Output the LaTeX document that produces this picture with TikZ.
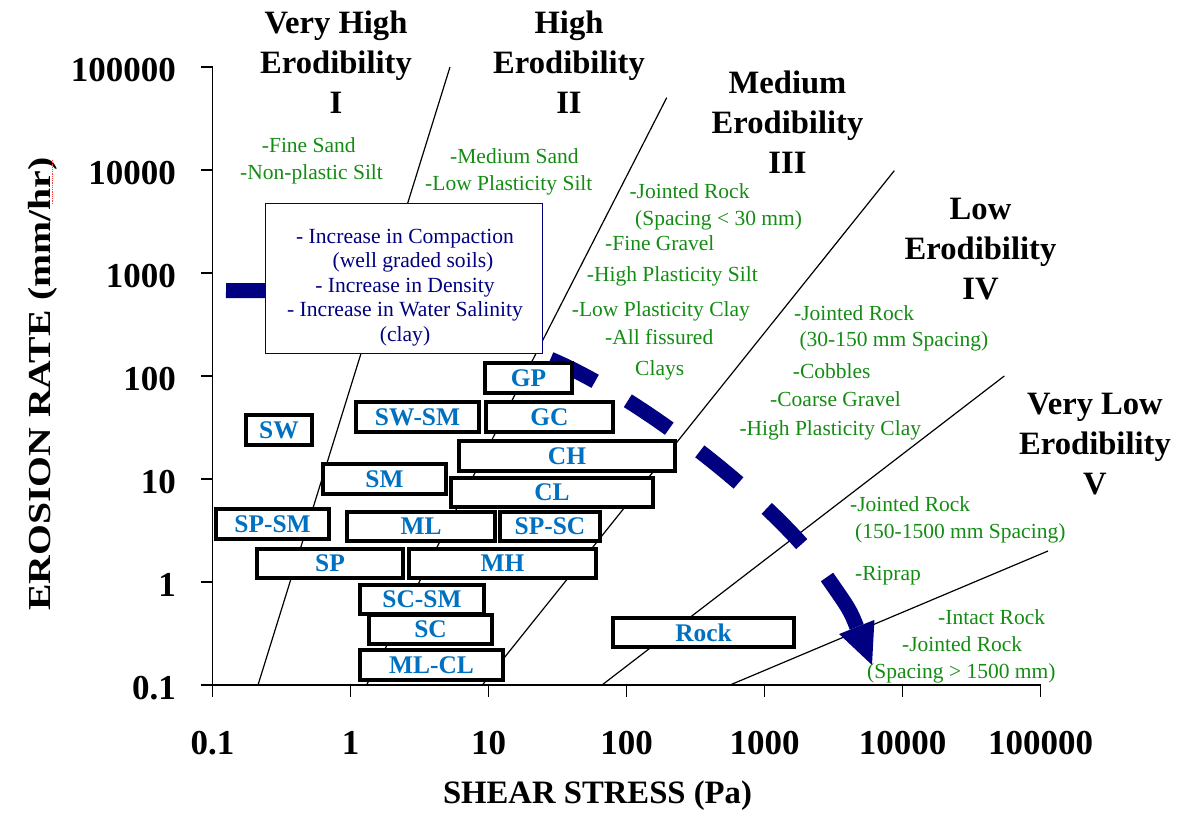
\documentclass[tikz,border=0pt]{standalone}
\usepackage{fontspec}
\setmainfont{Liberation Serif}
\usetikzlibrary{arrows.meta}

\begin{document}
\begin{tikzpicture}[x=1pt,y=-1pt,line cap=rect,
    axisline/.style={line width=1.5pt, black},
    zoneline/.style={line width=1.2pt, black, line cap=butt},
    ticklabel/.style={inner sep=0, font=\fontsize{35pt}{35pt}\bfseries\selectfont},
    zonetitle/.style={inner sep=0, align=center, anchor=south, font=\fontsize{32.6pt}{40pt}\bfseries\selectfont},
    soiltype/.style={inner sep=0, anchor=base west, text=custcol_14_8c_14, font=\fontsize{21.5pt}{21.5pt}\selectfont},
    soilbox/.style={draw=black, line width=4pt, fill=white, inner sep=0, text=custcol_0_70_c0, font=\fontsize{25.4pt}{25.4pt}\bfseries\selectfont},
    trend/.style={custcol_0_0_80, line width=15pt, line cap=butt}]
    \definecolor{custcol_0_70_c0}{RGB}{0, 112, 192}
    \definecolor{custcol_14_8c_14}{RGB}{20, 140, 20}
    \definecolor{custcol_0_0_80}{RGB}{0, 0, 128}
    \useasboundingbox (0,0) rectangle (1184,813);

    % axes, one decade every 138 x 103
    \draw [axisline] (212.5,67) -- (212.5,685) -- (1040.5,685);
    \foreach \k/\v in {0/0.1,1/1,2/10,3/100,4/1000,5/10000,6/100000} {
        \draw [axisline] ({212.5+138*\k},685) -- ({212.5+138*\k},696);
        \draw [axisline] (202,{685-103*\k}) -- (212.5,{685-103*\k});
        \node[ticklabel] (xt\k) at ({212.5+138*\k},743) {\v};
        \node[ticklabel, anchor=east] (yt\k) at (176,{688-103*\k}) {\v};
    }
    \node[rotate=90, anchor=base, inner sep=0, font=\fontsize{32pt}{32pt}\bfseries\selectfont] (ylab) at (50,384) {\scalebox{1.24}[1]{EROSION RATE (mm/hr)}};
    \draw [red!75, densely dotted, line width=0.8pt, line cap=butt] (52.5,160) -- (52.5,205);
    \node[anchor=base, inner sep=0, font=\fontsize{32.7pt}{32.7pt}\bfseries\selectfont] (xlab) at (597.5,803) {SHEAR STRESS (Pa)};

    % zone boundaries
    \draw [zoneline] (258,685) -- (450,67);
    \draw [zoneline] (366.6,685) -- (666.7,97.7);
    \draw [zoneline] (482.4,685) -- (894.3,170.7);
    \draw [zoneline] (602,685) -- (1004.3,376);
    \draw [zoneline] (730,685) -- (1048,551);

    \draw [trend, dash pattern=on 50pt off 38pt] (226,290.5) -- (480,291) -- (550,359) .. controls (633,394) and (747,481) .. (806,549);
    \draw [trend, -{Triangle[length=41pt,width=38pt,line width=0pt]}] (827,577) .. controls (850,610) .. (872,665);

    \node[draw=custcol_0_0_80, line width=1.3pt, fill=white, inner sep=0, minimum width=277pt, minimum height=150pt] (factors) at (404,278.5) {};
    \node[align=center, inner sep=0, text=custcol_0_0_80, font=\fontsize{21.6pt}{24.6pt}\selectfont] (factorlist) at (405,287.4)
        {- Increase in Compaction\\\hspace*{16pt}(well graded soils)\\- Increase in Density\\- Increase in Water Salinity\\(clay)};

    % soil groups
    \node[soilbox, minimum width=87pt, minimum height=30pt] (gp) at (528.5,378) {GP};
    \node[soilbox, minimum width=123pt, minimum height=30pt] (swsm) at (417.5,417) {SW-SM};
    \node[soilbox, minimum width=127pt, minimum height=30pt] (gc) at (549.5,417) {GC};
    \node[soilbox, minimum width=216pt, minimum height=30pt] (ch) at (567,456) {CH};
    \node[soilbox, minimum width=123pt, minimum height=30pt] (sm) at (384.5,479) {SM};
    \node[soilbox, minimum width=202pt, minimum height=29pt] (cl) at (552,492.5) {CL};
    \node[soilbox, minimum width=66pt, minimum height=30pt] (sw) at (279,430) {SW};
    \node[soilbox, minimum width=113pt, minimum height=30pt] (spsm) at (272.5,524) {SP-SM};
    \node[soilbox, minimum width=148pt, minimum height=29pt] (ml) at (421,526.5) {ML};
    \node[soilbox, minimum width=100pt, minimum height=29pt] (spsc) at (550,526.5) {SP-SC};
    \node[soilbox, minimum width=146pt, minimum height=29pt] (sp) at (330,563.5) {SP};
    \node[soilbox, minimum width=187pt, minimum height=29pt] (mh) at (502.5,563.5) {MH};
    \node[soilbox, minimum width=124pt, minimum height=29pt] (scsm) at (422,599.5) {SC-SM};
    \node[soilbox, minimum width=123pt, minimum height=29pt] (sc) at (430.5,629.5) {SC};
    \node[soilbox, minimum width=143pt, minimum height=30pt] (mlcl) at (431.5,665) {ML-CL};
    \node[soilbox, minimum width=181pt, minimum height=29pt] (rock) at (703.5,632.5) {Rock};

    % erodibility categories
    \node[zonetitle] (zone1) at (336,113.3) {Very High\\Erodibility\\I};
    \node[zonetitle] (zone2) at (569,113.3) {High\\Erodibility\\II};
    \node[zonetitle] (zone3) at (787.5,173.3) {Medium\\Erodibility\\III};
    \node[zonetitle] (zone4) at (980.5,300) {Low\\Erodibility\\IV};
    \node[zonetitle] (zone5) at (1095,495) {Very Low\\Erodibility\\V};

    \node[soiltype] (fsand) at (261.7,152.7) {-Fine Sand};
    \node[soiltype] (npsilt) at (240,180) {-Non-plastic Silt};
    \node[soiltype] (msand) at (450,163.3) {-Medium Sand};
    \node[soiltype] (lpsilt) at (425,190.7) {-Low Plasticity Silt};
    \node[soiltype] (jrock3) at (629.3,198.3) {-Jointed Rock};
    \node[soiltype] (jrock3s) at (635,226) {(Spacing < 30 mm)};
    \node[soiltype] (fgravel) at (605,250.7) {-Fine Gravel};
    \node[soiltype] (hpsilt) at (586.7,281) {-High Plasticity Silt};
    \node[soiltype] (lpclay) at (571.7,316.7) {-Low Plasticity Clay};
    \node[soiltype] (fissured) at (605,344) {-All fissured};
    \node[soiltype] (clays) at (635,375) {Clays};
    \node[soiltype] (jrock4) at (794,320) {-Jointed Rock};
    \node[soiltype] (jrock4s) at (799.3,346.7) {(30-150 mm Spacing)};
    \node[soiltype] (cobbles) at (792.7,378.3) {-Cobbles};
    \node[soiltype] (cgravel) at (770,406.7) {-Coarse Gravel};
    \node[soiltype] (hpclay) at (739.3,435) {-High Plasticity Clay};
    \node[soiltype] (jrock5) at (850,511.7) {-Jointed Rock};
    \node[soiltype] (jrock5s) at (855,538.3) {(150-1500 mm Spacing)};
    \node[soiltype] (riprap) at (855,580.7) {-Riprap};
    \node[soiltype] (intact) at (938,624) {-Intact Rock};
    \node[soiltype] (jrock6) at (902,651.7) {-Jointed Rock};
    \node[soiltype] (jrock6s) at (867,678.3) {(Spacing > 1500 mm)};
\end{tikzpicture}
\end{document}
